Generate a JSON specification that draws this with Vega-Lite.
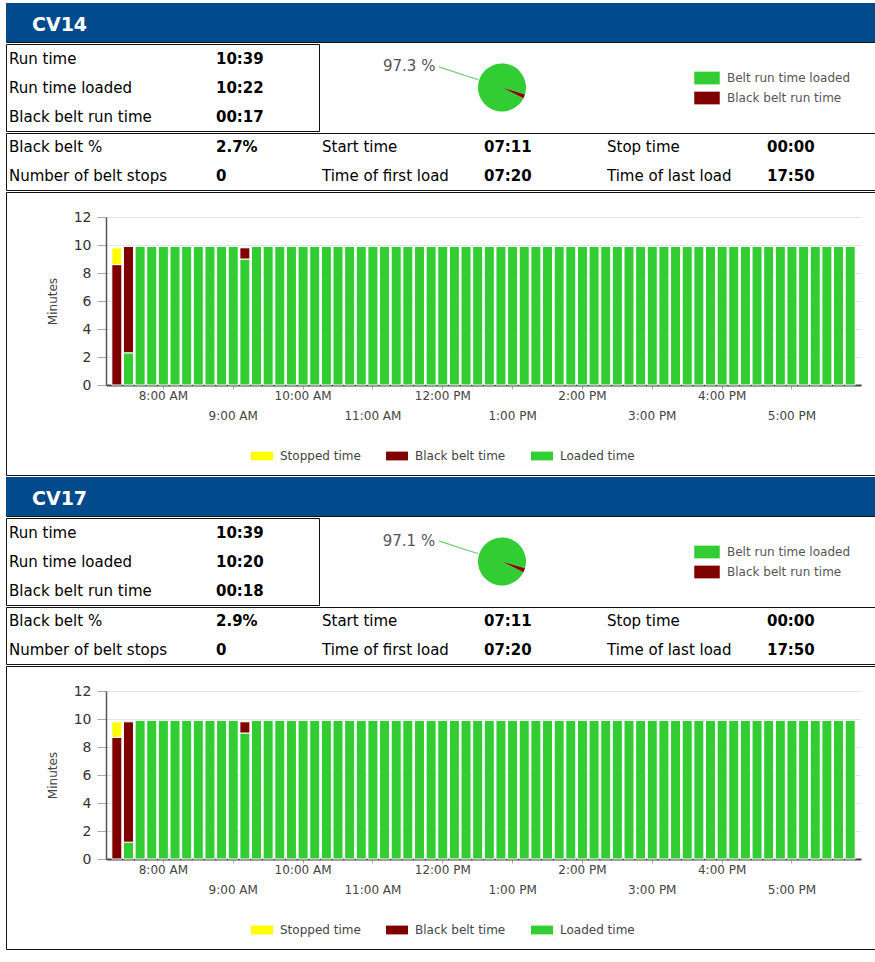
{
"$schema":"https://vega.github.io/schema/vega-lite/v6.json",
"padding":{"left":5,"top":2,"right":0,"bottom":0},
"background":"white",
"spacing":0,
"config":{"view":{"stroke":"#111","strokeWidth":1},"font":"DejaVu Sans"},
"resolve":{"scale":{"color":"independent","theta":"independent"},"legend":{"color":"independent"}},
"vconcat":[
{"width":870,"height":39,
 "data":{"values":[{"c":0,"t":"CV14"}]},
 "layer":[
  {"mark":{"type":"rect","color":"#014a8c"},"encoding":{}},
  {"mark":{"type":"text","align":"left","baseline":"middle","dy":2,"fontSize":19,"fontWeight":"bold","color":"white"},
   "encoding":{"x":{"field":"c","type":"quantitative","scale":{"domain":[0,1],"range":[26,870]},"axis":null},"text":{"field":"t"}}}]},
{"hconcat":[
 {"width":313,"height":87,
  "data":{"values":[{"r":0,"c":0,"t":"Run time"},{"r":0,"c":1,"t":"10:39"},{"r":1,"c":0,"t":"Run time loaded"},{"r":1,"c":1,"t":"10:22"},{"r":2,"c":0,"t":"Black belt run time"},{"r":2,"c":1,"t":"00:17"}]},
  "encoding":{"x":{"field":"c","type":"quantitative","scale":{"domain":[0,1],"range":[3,210]},"axis":null},"y":{"field":"r","type":"ordinal","axis":null},"text":{"field":"t"}},
  "layer":[
   {"transform":[{"filter":"datum.c == 0"}],"mark":{"type":"text","align":"left","baseline":"middle","fontSize":15,"color":"#000"}},
   {"transform":[{"filter":"datum.c == 1"}],"mark":{"type":"text","align":"left","baseline":"middle","fontSize":15,"fontWeight":"bold","color":"#000"}}]},
 {"width":366,"height":87,"view":{"stroke":null},
  "data":{"values":[{"k":"Belt run time loaded","v":97.3,"p":"97.3 %"},{"k":"Black belt run time","v":2.7,"p":""}]},
  "layer":[
   {"mark":{"type":"arc","outerRadius":24},
    "encoding":{"theta":{"field":"v","type":"quantitative","stack":true,"scale":{"domain":[0,100],"range":[2.037,8.32]}},"order":{"field":"v","sort":"descending"},
     "color":{"field":"k","type":"nominal","scale":{"domain":["Belt run time loaded","Black belt run time"],"range":["#32cd32","#800000"]},
      "legend":{"orient":"none","legendX":375,"legendY":21,"title":null,"symbolType":"M-1,-0.5H1V0.5H-1Z","symbolSize":650,"symbolStrokeWidth":0,"labelFont":"DejaVu Sans","labelFontSize":12,"labelColor":"#555","labelOffset":7,"rowPadding":0}}}},
   {"transform":[{"filter":"datum.p != ''"}],
    "mark":{"type":"text","radius":100,"dy":16,"fontSize":15,"color":"#555"},
    "encoding":{"theta":{"field":"v","type":"quantitative","stack":true,"scale":{"domain":[0,100],"range":[2.037,8.32]}},"text":{"field":"p"}}},
   {"data":{"values":[{}]},"mark":{"type":"arc","theta":5.024,"theta2":5.031,"innerRadius":25,"outerRadius":66,"fill":"#77cc77","stroke":"#77cc77","strokeWidth":0.8},"encoding":{}}]}
 ],"spacing":0,"bounds":"flush",
 "resolve":{"scale":{"color":"independent","theta":"independent"},"legend":{"color":"independent"}}},
{"width":870,"height":57,
 "data":{"values":[{"r":0,"c":0,"t":"Black belt %"},{"r":0,"c":1,"t":"2.7%"},{"r":0,"c":2,"t":"Start time"},{"r":0,"c":3,"t":"07:11"},{"r":0,"c":4,"t":"Stop time"},{"r":0,"c":5,"t":"00:00"},{"r":1,"c":0,"t":"Number of belt stops"},{"r":1,"c":1,"t":"0"},{"r":1,"c":2,"t":"Time of first load"},{"r":1,"c":3,"t":"07:20"},{"r":1,"c":4,"t":"Time of last load"},{"r":1,"c":5,"t":"17:50"}]},
 "encoding":{"x":{"field":"c","type":"quantitative","scale":{"domain":[0,1,2,3,4,5],"range":[3,210,316,478,601,761]},"axis":null},"y":{"field":"r","type":"ordinal","axis":null},"text":{"field":"t"}},
 "layer":[
  {"transform":[{"filter":"datum.c % 2 == 0"}],"mark":{"type":"text","align":"left","baseline":"middle","fontSize":15,"color":"#000"}},
  {"transform":[{"filter":"datum.c % 2 == 1"}],"mark":{"type":"text","align":"left","baseline":"middle","fontSize":15,"fontWeight":"bold","color":"#000"}}]},
{"width":870,"height":283,
 "data":{"values":[{"t":"07:20","empty":8.6,"down":1.2},{"t":"07:30","loaded":2.3,"empty":7.6},{"t":"07:40","loaded":9.9},{"t":"07:50","loaded":9.9},{"t":"08:00","loaded":9.9},{"t":"08:10","loaded":9.9},{"t":"08:20","loaded":9.9},{"t":"08:30","loaded":9.9},{"t":"08:40","loaded":9.9},{"t":"08:50","loaded":9.9},{"t":"09:00","loaded":9.9},{"t":"09:10","loaded":9.0,"empty":0.8},{"t":"09:20","loaded":9.9},{"t":"09:30","loaded":9.9},{"t":"09:40","loaded":9.9},{"t":"09:50","loaded":9.9},{"t":"10:00","loaded":9.9},{"t":"10:10","loaded":9.9},{"t":"10:20","loaded":9.9},{"t":"10:30","loaded":9.9},{"t":"10:40","loaded":9.9},{"t":"10:50","loaded":9.9},{"t":"11:00","loaded":9.9},{"t":"11:10","loaded":9.9},{"t":"11:20","loaded":9.9},{"t":"11:30","loaded":9.9},{"t":"11:40","loaded":9.9},{"t":"11:50","loaded":9.9},{"t":"12:00","loaded":9.9},{"t":"12:10","loaded":9.9},{"t":"12:20","loaded":9.9},{"t":"12:30","loaded":9.9},{"t":"12:40","loaded":9.9},{"t":"12:50","loaded":9.9},{"t":"13:00","loaded":9.9},{"t":"13:10","loaded":9.9},{"t":"13:20","loaded":9.9},{"t":"13:30","loaded":9.9},{"t":"13:40","loaded":9.9},{"t":"13:50","loaded":9.9},{"t":"14:00","loaded":9.9},{"t":"14:10","loaded":9.9},{"t":"14:20","loaded":9.9},{"t":"14:30","loaded":9.9},{"t":"14:40","loaded":9.9},{"t":"14:50","loaded":9.9},{"t":"15:00","loaded":9.9},{"t":"15:10","loaded":9.9},{"t":"15:20","loaded":9.9},{"t":"15:30","loaded":9.9},{"t":"15:40","loaded":9.9},{"t":"15:50","loaded":9.9},{"t":"16:00","loaded":9.9},{"t":"16:10","loaded":9.9},{"t":"16:20","loaded":9.9},{"t":"16:30","loaded":9.9},{"t":"16:40","loaded":9.9},{"t":"16:50","loaded":9.9},{"t":"17:00","loaded":9.9},{"t":"17:10","loaded":9.9},{"t":"17:20","loaded":9.9},{"t":"17:30","loaded":9.9},{"t":"17:40","loaded":9.9},{"t":"17:50","loaded":9.9}]},
 "transform":[{"fold":["loaded","empty","down"],"as":["k","v"]},{"filter":"datum.v > 0"}],
 "mark":{"type":"bar","stroke":"white","strokeWidth":1},
 "encoding":{
  "x":{"field":"t","type":"ordinal","scale":{"range":[100,855],"paddingInner":0.14,"paddingOuter":0.5},
   "axis":{"orient":"bottom","offset":-90,"title":null,"values":["08:00","09:00","10:00","11:00","12:00","13:00","14:00","15:00","16:00","17:00"],"labelExpr":"{'08:00':'8:00 AM','09:00':['','9:00 AM'],'10:00':'10:00 AM','11:00':['','11:00 AM'],'12:00':'12:00 PM','13:00':['','1:00 PM'],'14:00':'2:00 PM','15:00':['','3:00 PM'],'16:00':'4:00 PM','17:00':['','5:00 PM']}[datum.value]","labelAngle":0,"labelLineHeight":20,"labelFont":"DejaVu Sans","labelFontSize":12,"labelColor":"#444","labelPadding":1,"tickSize":4,"tickColor":"#aaa","domainColor":"#444","domainWidth":2,"grid":false,"labelOverlap":false}},
  "y":{"field":"v","type":"quantitative","stack":"zero","scale":{"domain":[0,12],"range":[193,25],"nice":false},
   "axis":{"orient":"left","offset":-100,"values":[0,2,4,6,8,10,12],"title":"Minutes","titleFont":"DejaVu Sans","titleFontSize":12,"titleFontWeight":"normal","titleColor":"#444","titlePadding":14,"labelFont":"DejaVu Sans","labelFontSize":14,"labelColor":"#333","labelPadding":6,"tickSize":9,"tickColor":"#aaa","domainColor":"#555","domainWidth":1.5,"grid":true,"gridColor":"#e4e4e4"}},
  "color":{"field":"k","type":"nominal","scale":{"domain":["down","empty","loaded"],"range":["#ffff00","#800000","#32cd32"]},
   "legend":{"orient":"none","direction":"horizontal","columns":3,"legendX":245,"legendY":253,"title":null,"labelExpr":"datum.label == 'down' ? 'Stopped time' : datum.label == 'empty' ? 'Black belt time' : 'Loaded time'","symbolType":"M-1,-0.4H1V0.4H-1Z","symbolSize":484,"symbolStrokeWidth":0,"labelFont":"DejaVu Sans","labelFontSize":12,"labelColor":"#444","labelOffset":7,"columnPadding":25}},
  "order":{"field":"k","type":"nominal","sort":"descending"}}},
{"width":870,"height":39,
 "data":{"values":[{"c":0,"t":"CV17"}]},
 "layer":[
  {"mark":{"type":"rect","color":"#014a8c"},"encoding":{}},
  {"mark":{"type":"text","align":"left","baseline":"middle","dy":2,"fontSize":19,"fontWeight":"bold","color":"white"},
   "encoding":{"x":{"field":"c","type":"quantitative","scale":{"domain":[0,1],"range":[26,870]},"axis":null},"text":{"field":"t"}}}]},
{"hconcat":[
 {"width":313,"height":87,
  "data":{"values":[{"r":0,"c":0,"t":"Run time"},{"r":0,"c":1,"t":"10:39"},{"r":1,"c":0,"t":"Run time loaded"},{"r":1,"c":1,"t":"10:20"},{"r":2,"c":0,"t":"Black belt run time"},{"r":2,"c":1,"t":"00:18"}]},
  "encoding":{"x":{"field":"c","type":"quantitative","scale":{"domain":[0,1],"range":[3,210]},"axis":null},"y":{"field":"r","type":"ordinal","axis":null},"text":{"field":"t"}},
  "layer":[
   {"transform":[{"filter":"datum.c == 0"}],"mark":{"type":"text","align":"left","baseline":"middle","fontSize":15,"color":"#000"}},
   {"transform":[{"filter":"datum.c == 1"}],"mark":{"type":"text","align":"left","baseline":"middle","fontSize":15,"fontWeight":"bold","color":"#000"}}]},
 {"width":366,"height":87,"view":{"stroke":null},
  "data":{"values":[{"k":"Belt run time loaded","v":97.1,"p":"97.1 %"},{"k":"Black belt run time","v":2.9,"p":""}]},
  "layer":[
   {"mark":{"type":"arc","outerRadius":24},
    "encoding":{"theta":{"field":"v","type":"quantitative","stack":true,"scale":{"domain":[0,100],"range":[2.037,8.32]}},"order":{"field":"v","sort":"descending"},
     "color":{"field":"k","type":"nominal","scale":{"domain":["Belt run time loaded","Black belt run time"],"range":["#32cd32","#800000"]},
      "legend":{"orient":"none","legendX":375,"legendY":21,"title":null,"symbolType":"M-1,-0.5H1V0.5H-1Z","symbolSize":650,"symbolStrokeWidth":0,"labelFont":"DejaVu Sans","labelFontSize":12,"labelColor":"#555","labelOffset":7,"rowPadding":0}}}},
   {"transform":[{"filter":"datum.p != ''"}],
    "mark":{"type":"text","radius":100,"dy":16,"fontSize":15,"color":"#555"},
    "encoding":{"theta":{"field":"v","type":"quantitative","stack":true,"scale":{"domain":[0,100],"range":[2.037,8.32]}},"text":{"field":"p"}}},
   {"data":{"values":[{}]},"mark":{"type":"arc","theta":5.024,"theta2":5.031,"innerRadius":25,"outerRadius":66,"fill":"#77cc77","stroke":"#77cc77","strokeWidth":0.8},"encoding":{}}]}
 ],"spacing":0,"bounds":"flush",
 "resolve":{"scale":{"color":"independent","theta":"independent"},"legend":{"color":"independent"}}},
{"width":870,"height":57,
 "data":{"values":[{"r":0,"c":0,"t":"Black belt %"},{"r":0,"c":1,"t":"2.9%"},{"r":0,"c":2,"t":"Start time"},{"r":0,"c":3,"t":"07:11"},{"r":0,"c":4,"t":"Stop time"},{"r":0,"c":5,"t":"00:00"},{"r":1,"c":0,"t":"Number of belt stops"},{"r":1,"c":1,"t":"0"},{"r":1,"c":2,"t":"Time of first load"},{"r":1,"c":3,"t":"07:20"},{"r":1,"c":4,"t":"Time of last load"},{"r":1,"c":5,"t":"17:50"}]},
 "encoding":{"x":{"field":"c","type":"quantitative","scale":{"domain":[0,1,2,3,4,5],"range":[3,210,316,478,601,761]},"axis":null},"y":{"field":"r","type":"ordinal","axis":null},"text":{"field":"t"}},
 "layer":[
  {"transform":[{"filter":"datum.c % 2 == 0"}],"mark":{"type":"text","align":"left","baseline":"middle","fontSize":15,"color":"#000"}},
  {"transform":[{"filter":"datum.c % 2 == 1"}],"mark":{"type":"text","align":"left","baseline":"middle","fontSize":15,"fontWeight":"bold","color":"#000"}}]},
{"width":870,"height":283,
 "data":{"values":[{"t":"07:20","empty":8.7,"down":1.1},{"t":"07:30","loaded":1.2,"empty":8.6},{"t":"07:40","loaded":9.9},{"t":"07:50","loaded":9.9},{"t":"08:00","loaded":9.9},{"t":"08:10","loaded":9.9},{"t":"08:20","loaded":9.9},{"t":"08:30","loaded":9.9},{"t":"08:40","loaded":9.9},{"t":"08:50","loaded":9.9},{"t":"09:00","loaded":9.9},{"t":"09:10","loaded":9.0,"empty":0.8},{"t":"09:20","loaded":9.9},{"t":"09:30","loaded":9.9},{"t":"09:40","loaded":9.9},{"t":"09:50","loaded":9.9},{"t":"10:00","loaded":9.9},{"t":"10:10","loaded":9.9},{"t":"10:20","loaded":9.9},{"t":"10:30","loaded":9.9},{"t":"10:40","loaded":9.9},{"t":"10:50","loaded":9.9},{"t":"11:00","loaded":9.9},{"t":"11:10","loaded":9.9},{"t":"11:20","loaded":9.9},{"t":"11:30","loaded":9.9},{"t":"11:40","loaded":9.9},{"t":"11:50","loaded":9.9},{"t":"12:00","loaded":9.9},{"t":"12:10","loaded":9.9},{"t":"12:20","loaded":9.9},{"t":"12:30","loaded":9.9},{"t":"12:40","loaded":9.9},{"t":"12:50","loaded":9.9},{"t":"13:00","loaded":9.9},{"t":"13:10","loaded":9.9},{"t":"13:20","loaded":9.9},{"t":"13:30","loaded":9.9},{"t":"13:40","loaded":9.9},{"t":"13:50","loaded":9.9},{"t":"14:00","loaded":9.9},{"t":"14:10","loaded":9.9},{"t":"14:20","loaded":9.9},{"t":"14:30","loaded":9.9},{"t":"14:40","loaded":9.9},{"t":"14:50","loaded":9.9},{"t":"15:00","loaded":9.9},{"t":"15:10","loaded":9.9},{"t":"15:20","loaded":9.9},{"t":"15:30","loaded":9.9},{"t":"15:40","loaded":9.9},{"t":"15:50","loaded":9.9},{"t":"16:00","loaded":9.9},{"t":"16:10","loaded":9.9},{"t":"16:20","loaded":9.9},{"t":"16:30","loaded":9.9},{"t":"16:40","loaded":9.9},{"t":"16:50","loaded":9.9},{"t":"17:00","loaded":9.9},{"t":"17:10","loaded":9.9},{"t":"17:20","loaded":9.9},{"t":"17:30","loaded":9.9},{"t":"17:40","loaded":9.9},{"t":"17:50","loaded":9.9}]},
 "transform":[{"fold":["loaded","empty","down"],"as":["k","v"]},{"filter":"datum.v > 0"}],
 "mark":{"type":"bar","stroke":"white","strokeWidth":1},
 "encoding":{
  "x":{"field":"t","type":"ordinal","scale":{"range":[100,855],"paddingInner":0.14,"paddingOuter":0.5},
   "axis":{"orient":"bottom","offset":-90,"title":null,"values":["08:00","09:00","10:00","11:00","12:00","13:00","14:00","15:00","16:00","17:00"],"labelExpr":"{'08:00':'8:00 AM','09:00':['','9:00 AM'],'10:00':'10:00 AM','11:00':['','11:00 AM'],'12:00':'12:00 PM','13:00':['','1:00 PM'],'14:00':'2:00 PM','15:00':['','3:00 PM'],'16:00':'4:00 PM','17:00':['','5:00 PM']}[datum.value]","labelAngle":0,"labelLineHeight":20,"labelFont":"DejaVu Sans","labelFontSize":12,"labelColor":"#444","labelPadding":1,"tickSize":4,"tickColor":"#aaa","domainColor":"#444","domainWidth":2,"grid":false,"labelOverlap":false}},
  "y":{"field":"v","type":"quantitative","stack":"zero","scale":{"domain":[0,12],"range":[193,25],"nice":false},
   "axis":{"orient":"left","offset":-100,"values":[0,2,4,6,8,10,12],"title":"Minutes","titleFont":"DejaVu Sans","titleFontSize":12,"titleFontWeight":"normal","titleColor":"#444","titlePadding":14,"labelFont":"DejaVu Sans","labelFontSize":14,"labelColor":"#333","labelPadding":6,"tickSize":9,"tickColor":"#aaa","domainColor":"#555","domainWidth":1.5,"grid":true,"gridColor":"#e4e4e4"}},
  "color":{"field":"k","type":"nominal","scale":{"domain":["down","empty","loaded"],"range":["#ffff00","#800000","#32cd32"]},
   "legend":{"orient":"none","direction":"horizontal","columns":3,"legendX":245,"legendY":253,"title":null,"labelExpr":"datum.label == 'down' ? 'Stopped time' : datum.label == 'empty' ? 'Black belt time' : 'Loaded time'","symbolType":"M-1,-0.4H1V0.4H-1Z","symbolSize":484,"symbolStrokeWidth":0,"labelFont":"DejaVu Sans","labelFontSize":12,"labelColor":"#444","labelOffset":7,"columnPadding":25}},
  "order":{"field":"k","type":"nominal","sort":"descending"}}}
]
}
